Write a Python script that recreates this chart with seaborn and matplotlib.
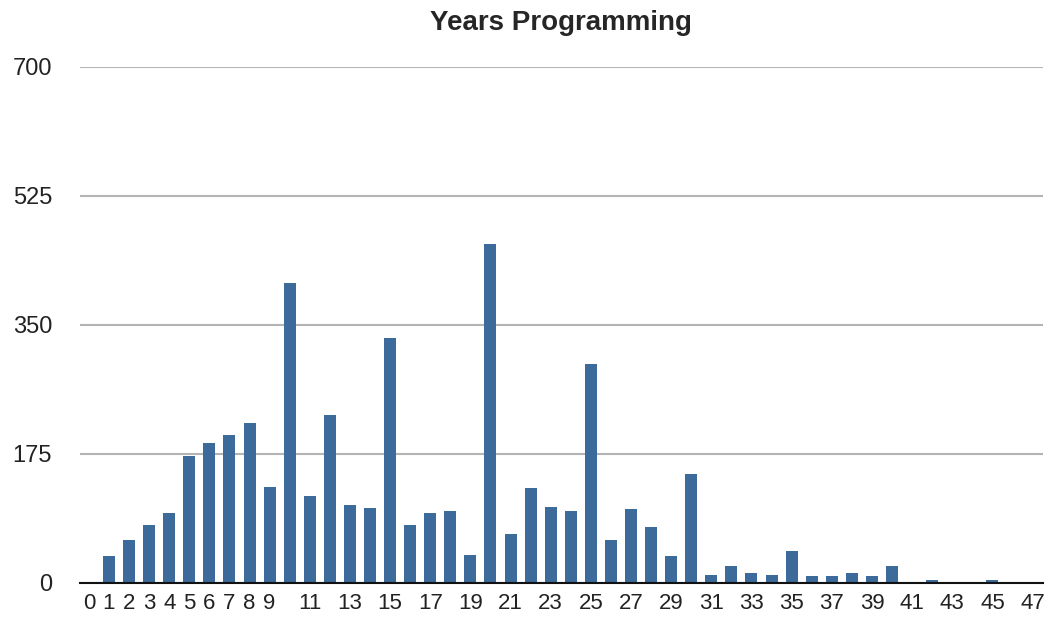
import numpy as np
import pandas as pd
import matplotlib.pyplot as plt
import seaborn as sns

# values
years = list(range(48))
counts = [0, 36, 58, 78, 95, 172, 190, 200, 217, 130,
          406, 118, 227, 105, 101, 332, 78, 95, 98, 38,
          459, 66, 128, 103, 98, 297, 58, 100, 75, 36,
          147, 11, 23, 13, 11, 43, 9, 9, 13, 9,
          23, 0, 4, 0, 0, 4, 0, 0]
tick_labels = [str(y) if (y < 10 or y % 2 == 1) else "" for y in years]
y_ticks = [0, 175, 350, 525, 700]

df = pd.DataFrame({"years": years, "count": counts})

sns.set_style("white")
plt.rcParams["font.family"] = ["Liberation Sans", "DejaVu Sans"]

fig = plt.figure(figsize=(10.51, 6.28), dpi=100)
ax = fig.add_axes([0.076, 0.072, 0.916, 0.822])

sns.barplot(data=df, x="years", y="count", color="#3b6a9b", saturation=1,
            width=0.6, linewidth=0, ax=ax, zorder=3)

ax.set_ylim(0, 700)
ax.set_xlim(-0.45, 47.5)
ax.set_yticks(y_ticks)
ax.set_yticklabels([str(v) for v in y_ticks])
ax.set_xticks(years)
ax.set_xticklabels(tick_labels)
ax.tick_params(axis="both", length=0, colors="#222222")
ax.tick_params(axis="y", pad=20, labelsize=17)
ax.tick_params(axis="x", pad=7, labelsize=16)

ax.yaxis.grid(True, color="#b4b4b4", linewidth=1.5, zorder=0)
ax.set_axisbelow(True)
for s in ["top", "right", "left"]:
    ax.spines[s].set_visible(False)
ax.spines["bottom"].set_color("#111111")
ax.spines["bottom"].set_linewidth(1.5)
ax.spines["bottom"].set_zorder(4)

ax.set_xlabel("")
ax.set_ylabel("")
ax.set_title("Years Programming", fontsize=20, fontweight="bold", pad=26)

fig.savefig("out.png", dpi=100)
